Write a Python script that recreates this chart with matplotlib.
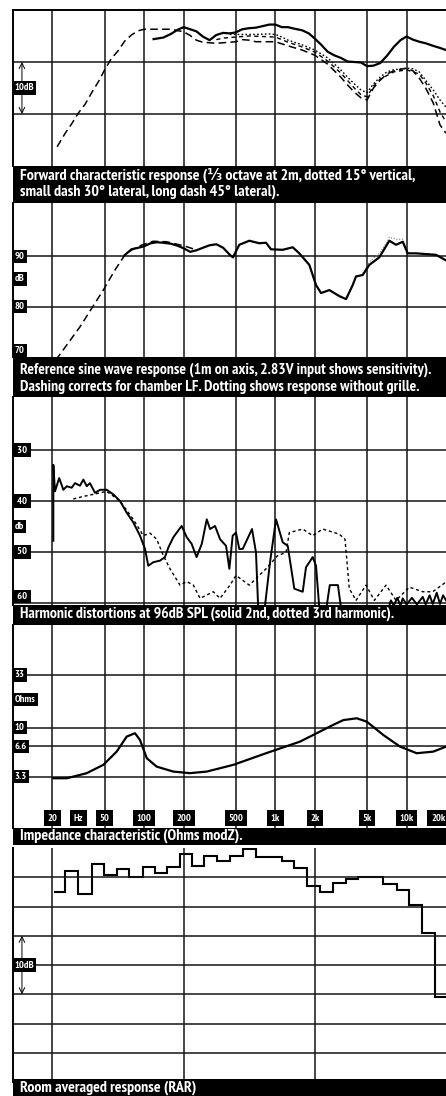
import matplotlib
matplotlib.use("Agg")
import matplotlib.pyplot as plt
from matplotlib import font_manager as fm
from matplotlib.patches import Rectangle

W, H = 446, 1096

# frequency grid and scale labels (Hz)
grid_freqs = [20, 50, 100, 200, 500, 1000, 2000, 5000, 10000]
rar_grid_freqs = [20, 200, 2000]
scale_text = ["20", "Hz", "50", "100", "200", "500", "1k", "2k", "5k", "10k", "20k"]
scale_freqs = [20, 31.5, 50, 100, 200, 500, 1000, 2000, 5000, 10000, 17400]

# forward response, 1/3 octave at 2m (dB)
fwd_axis_f = [118, 125, 140, 160, 180, 200, 224, 250, 280, 315, 355, 400, 450, 500, 560, 630,
              710, 800, 900, 1000, 1120, 1250, 1400, 1600, 1800, 2000, 2240, 2500, 2800, 3150,
              3550, 4000, 4500, 5000, 5600, 6300, 7100, 8000, 9000, 10000, 11200, 12500, 14000,
              16000, 18000, 20000]
fwd_axis_db = [84.4, 84.5, 84.7, 85.4, 86.2, 86.7, 86.3, 85.9, 84.9, 84.2, 85.2, 85.6, 85.5, 85.7,
               86.3, 86.5, 86.6, 86.9, 87.2, 87.2, 86.7, 86.7, 86.4, 86.1, 85.5, 84.5, 83.3, 82.0,
               81.3, 80.8, 80.1, 80.0, 79.9, 79.2, 79.3, 79.8, 81.2, 82.9, 84.2, 84.9, 84.3, 83.9,
               83.6, 83.1, 82.7, 82.3]
fwd_45_f = [21.7, 25, 28, 31.5, 35.5, 40, 45, 50, 56, 63, 71, 80, 90, 100, 125, 160, 200, 224,
            250, 280, 355, 450, 500, 560, 630, 710, 1000, 1250, 1600, 2000, 2500, 3150, 3550,
            4000, 4500, 5000, 5600, 6300, 7100, 8000, 9000, 10000, 11200, 12500, 14000, 16000,
            18000, 20000]
fwd_45_db = [63.7, 66.3, 68.1, 70.2, 71.9, 74.2, 76.3, 78.5, 80.6, 82.1, 84.0, 85.2, 86.0, 86.3,
             86.3, 86.3, 85.8, 85.1, 84.2, 83.8, 83.6, 83.8, 83.9, 84.3, 84.2, 83.9, 83.9, 83.1,
             82.3, 81.3, 79.6, 77.1, 75.6, 74.2, 73.1, 72.7, 75.0, 76.5, 77.7, 78.3, 78.6, 78.8,
             78.3, 76.9, 75.0, 72.1, 67.9, 66.3]
fwd_15_f = [450, 560, 710, 900, 1000, 1120, 1250, 1600, 2000, 2500, 3150, 3550, 4000, 4500, 5000,
            5600, 6300, 7100, 8000, 10000, 11200, 12500, 14000, 16000, 18000, 20000]
fwd_15_db = [85.3, 85.3, 85.3, 85.4, 85.3, 84.8, 84.2, 83.3, 82.3, 80.8, 78.5, 77.1, 75.8, 74.6,
             74.1, 75.8, 77.1, 78.1, 78.5, 78.8, 78.7, 78.1, 76.5, 74.6, 72.7, 71.3]
fwd_30_f = [355, 400, 500, 630, 800, 1000, 1250, 1600, 2000, 2500, 3150, 4000, 4500, 5000, 5600,
            6300, 8000, 10000, 12500, 14000, 16000, 18000, 20000]
fwd_30_db = [84.3, 84.6, 84.8, 85.0, 84.9, 84.8, 83.8, 82.9, 81.9, 80.2, 77.9, 75.0, 73.7, 73.3,
             75.4, 76.7, 78.1, 78.5, 77.7, 76.0, 73.5, 70.4, 68.5]

# reference sine wave response, 1m (dB)
ref_f = [71.4, 80, 90, 100, 112, 125, 140, 160, 180, 200, 224, 250, 280, 315, 355, 400, 450, 475,
         531, 633, 755, 849, 927, 1138, 1357, 1523, 1816, 2042, 2230, 2579, 3074, 3458, 3890,
         4121, 4637, 5205, 6203, 7394, 8318, 9357, 10214, 11816, 16788, 20000]
ref_db = [90.3, 91.4, 91.7, 92.0, 92.6, 92.8, 92.7, 92.5, 92.1, 91.6, 90.9, 91.2, 91.7, 92.2,
          92.4, 91.7, 90.3, 89.8, 92.3, 93.1, 92.6, 92.7, 91.4, 91.3, 91.8, 90.6, 88.3, 84.3,
          82.7, 83.3, 82.1, 81.5, 84.3, 86.0, 86.3, 88.3, 89.8, 93.1, 92.3, 92.9, 90.6, 90.6,
          90.3, 89.2]
ref_lf_f = [21, 22.2, 32.4, 48.8, 59.9, 71.4, 80.6, 97, 117, 148, 200, 236]
ref_lf_db = [69.5, 70.1, 76.0, 83.3, 87.3, 90.3, 91.3, 92.3, 93.0, 92.9, 92.1, 91.5]
ref_nogrille_f = [4637, 5205, 6203, 7000, 7394, 8318, 9357, 10214]
ref_nogrille_db = [86.6, 88.9, 90.6, 92.6, 93.8, 93.4, 93.4, 91.0]

# harmonic distortion at 96dB SPL (dB below fundamental)
h2_f = [20.3, 20.3, 20.9, 22.5, 24.2, 25.7, 28.0, 29.7, 32.4, 34.4, 36.5, 38.6, 42.2, 46.1, 51.8,
        58.2, 65.4, 73.6, 82.6, 92.9, 101.5, 107.5, 117.4, 132, 144, 153, 167, 193, 211, 230,
        251, 275, 300, 318, 347, 379, 421, 446, 473, 501, 531, 564, 664, 712, 740, 830, 911,
        1012, 1138, 1243, 1395, 1617, 1713, 1927, 2042, 2164, 2450, 2600, 3000, 3168, 7300,
        7600, 8000, 8500, 9000, 9357, 10000, 11000, 12000, 13292, 14000, 15000, 15844, 17000,
        18000, 19000, 20000]
h2_db = [47.8, 32.9, 38.1, 35.5, 37.8, 37.1, 37.4, 36.5, 37.0, 35.8, 37.1, 36.5, 38.4, 37.8, 37.8,
         38.7, 40.0, 42.3, 44.2, 46.8, 49.4, 52.7, 52.0, 51.7, 51.0, 49.1, 47.1, 44.9, 47.1, 48.4,
         51.0, 48.4, 43.6, 45.5, 44.9, 47.5, 48.8, 53.3, 46.8, 46.2, 49.4, 49.4, 45.5, 50.1, 61,
         61, 52.0, 43.6, 48.1, 48.8, 57.2, 57.8, 53.0, 51.0, 52.7, 61, 61, 56.5, 56.5, 61, 61,
         59.5, 60.5, 59.0, 60.5, 59.1, 60.3, 59.0, 60.3, 58.8, 60.3, 58.5, 60.2, 58.0, 60.2,
         58.5, 59.5]
h3_f = [28.8, 34.4, 40.9, 51.8, 65.4, 82.6, 98.5, 110.8, 124.6, 140, 157.4, 187.6, 211, 237,
        266.6, 336.6, 378.6, 451, 501, 633, 849, 1042, 1206, 1278, 1617, 1927, 2297, 3074, 3397,
        3664, 4121, 4913, 5684, 6981, 8318, 10505, 13292, 15844, 20000]
h3_db = [39.6, 39.1, 38.7, 38.1, 40.0, 43.6, 46.8, 46.3, 47.5, 50.7, 53.3, 56.5, 55.8, 56.5,
         59.1, 57.8, 59.1, 56.5, 54.6, 56.5, 53.3, 50.7, 50.1, 46.2, 45.5, 46.8, 45.5, 46.5,
         47.5, 57.2, 59.5, 56.5, 59.5, 56.5, 59.5, 56.9, 57.8, 57.8, 55.9]

# impedance modulus (ohms)
imp_f = [20.3, 25.7, 36.5, 48.8, 61.7, 73.6, 85.1, 92.9, 104.7, 124.6, 166.8, 223.6, 299.8, 478,
         849, 1542, 2067, 2767, 3297, 4173, 4973, 6656, 8923, 11963, 16012, 20000]
imp_ohm = [3.2, 3.2, 3.59, 4.33, 5.84, 8.2, 8.85, 7.6, 5.03, 4.16, 3.72, 3.59, 3.72, 4.33, 5.63,
           7.32, 8.85, 10.7, 11.9, 12.4, 11.5, 8.5, 6.54, 5.63, 5.84, 6.54]

# room averaged response, 1/3 octave bands (dB)
rar_edges = [20.6, 24.9, 31.1, 39.8, 49.4, 61.7, 77.0, 97.4, 120.9, 148.5, 187.6, 230.3, 285.9,
             361, 451, 564, 712, 884, 1118, 1388, 1753, 2191, 2767, 3440, 4291, 5335, 6656,
             8422, 10505, 13059, 16497, 20000]
rar_db = [32.5, 36.1, 32.1, 37.2, 35.4, 36.4, 35.0, 36.7, 35.8, 36.8, 39.0, 36.9, 38.6, 37.8,
          38.6, 39.8, 38.4, 38.5, 37.7, 36.5, 33.5, 32.4, 34.0, 34.7, 35.1, 35.0, 33.8, 32.8,
          30.3, 25.5, 14.5]

# caption lines, bar top/bottom, line centres and measured width of first line (px)
captions = [
    (["Forward characteristic response (\u2153 octave at 2m, dotted 15\u00b0 vertical,",
      "small dash 30\u00b0 lateral, long dash 45\u00b0 lateral)."], 166, 203, [175, 191.5], 401),
    (["Reference sine wave response (1m on axis, 2.83V input shows sensitivity).",
      "Dashing corrects for chamber LF. Dotting shows response without grille."], 357, 397,
     [370, 386.5], 412),
    (["Harmonic distortions at 96dB SPL (solid 2nd, dotted 3rd harmonic)."], 605, 625, [614], 378),
    (["Impedance characteristic (Ohms modZ)."], 828, 845, [835.5], 228),
    (["Room averaged response (RAR)"], 1079, 1096, [1088], 178),
]


# the scan uses a bold condensed grotesque: look for a bold narrow face
def is_bold(f):
    w = f.weight
    if isinstance(w, str):
        return w in ("bold", "heavy", "black", "demibold", "semibold", "extra bold", "ultrabold")
    return w >= 600


cands = [f for f in fm.fontManager.ttflist
         if "Narrow" in f.name or "Condensed" in f.name
         or f.stretch in ("condensed", "semi-condensed", "extra-condensed")]
cands.sort(key=lambda f: (not is_bold(f), "Narrow" not in f.name))
if cands:
    pick = cands[0]
    narrow, weight, stretch = pick.name, pick.weight, pick.stretch
else:
    narrow, weight, stretch = "DejaVu Sans", "bold", "normal"

plt.rcParams['font.family'] = [narrow, 'DejaVu Sans']
plt.rcParams['font.weight'] = weight
plt.rcParams['font.stretch'] = stretch


def box(top, bottom, left=13, right=W):
    return [left / W, 1 - bottom / H, (right - left) / W, (bottom - top) / H]


def style(ax, ylim, yticks, xgrid=grid_freqs, yscale="linear"):
    ax.set_xscale("log")
    ax.set_yscale(yscale)
    ax.set_xlim(10, 20000)
    ax.set_ylim(*ylim)
    ax.set_xticks(xgrid)
    ax.set_xticks([], minor=True)
    ax.set_yticks(yticks)
    ax.set_yticks([], minor=True)
    ax.tick_params(length=0, labelleft=False, labelbottom=False)
    ax.grid(True, color="#151515", lw=1.1)
    for s in ["right", "bottom", "top"]:
        ax.spines[s].set_visible(False)
    ax.spines["left"].set_linewidth(1.4)


def tag(ax, y, s, size=7.5):
    ax.text(0.004, y, s, transform=ax.get_yaxis_transform(), color="white", fontsize=size,
            ha="left", va="center", zorder=6,
            bbox=dict(boxstyle="square,pad=0.2", fc="black", ec="none"))


fig = plt.figure(figsize=(W / 100, H / 100), dpi=100)

solid = dict(color="black", lw=1.6, solid_joinstyle="round")

# forward response
ax1 = fig.add_axes(box(10, 166))
style(ax1, (60, 90), [70, 80])
ax1.spines["top"].set_visible(True)
ax1.spines["top"].set_linewidth(1.4)
ax1.plot(fwd_45_f, fwd_45_db, color="black", lw=1.1, ls=(0, (5, 2.8)))
ax1.plot(fwd_30_f, fwd_30_db, color="black", lw=1.0, ls=(0, (3, 2.5)))
ax1.plot(fwd_15_f, fwd_15_db, color="black", lw=1.0, ls=(0, (1.2, 1.6)))
ax1.plot(fwd_axis_f, fwd_axis_db, **solid)
ax1.annotate("", xy=(11.7, 80), xytext=(11.7, 70),
             arrowprops=dict(arrowstyle="<->", lw=0.7, color="black", shrinkA=0, shrinkB=0))
tag(ax1, 75, "10dB")

# reference sine wave response
ax2 = fig.add_axes(box(203, 357))
style(ax2, (70, 100.6), [80, 90])
ax2.plot(ref_lf_f, ref_lf_db, color="black", lw=1.1, ls=(0, (5, 2.8)))
ax2.plot(ref_nogrille_f, ref_nogrille_db, color="#777777", lw=0.8, ls=(0, (1, 1.5)))
ax2.plot(ref_f, ref_db, **solid)
tag(ax2, 90, "90")
tag(ax2, 85.5, "dB")
tag(ax2, 80, "80")
tag(ax2, 71.2, "70")

# harmonic distortion
ax3 = fig.add_axes(box(397, 605))
style(ax3, (60.4, 19.6), [30, 40, 50, 60])
ax3.plot(h3_f, h3_db, color="black", lw=1.0, ls=(0, (2.2, 2)))
ax3.plot(h2_f, h2_db, color="black", lw=1.4)
tag(ax3, 30, " 30 ")
tag(ax3, 40, " 40 ")
tag(ax3, 45, "db")
tag(ax3, 50, " 50 ")
tag(ax3, 58.7, " 60 ")

# impedance
ax4 = fig.add_axes(box(625, 828))
style(ax4, (1.04, 102), [3.3, 6.6, 10, 33], yscale="log")
ax4.plot(imp_f, imp_ohm, **solid)
tag(ax4, 33, "33")
tag(ax4, 19, "Ohms")
tag(ax4, 10, "10")
tag(ax4, 6.6, "6.6")
tag(ax4, 3.3, "3.3")
for f, s in zip(scale_freqs, scale_text):
    ax4.text(f, 1.3, s, color="white", fontsize=7.5, ha="center", va="center", zorder=6,
             bbox=dict(boxstyle="square,pad=0.35", fc="black", ec="none"))

# room averaged response
ax5 = fig.add_axes(box(848, 1082))
style(ax5, (0, 40), [5, 10, 15, 20, 25, 30, 35], xgrid=rar_grid_freqs)
ax5.stairs(rar_db, rar_edges, baseline=None, color="black", lw=1.5)
ax5.annotate("", xy=(11.7, 25), xytext=(11.7, 15),
             arrowprops=dict(arrowstyle="<->", lw=0.7, color="black", shrinkA=0, shrinkB=0))
tag(ax5, 20, "10dB")

# black caption bars, text sized to the measured width of the scan
fig.canvas.draw()
renderer = fig.canvas.get_renderer()
for lines, top, bottom, centres, width in captions:
    fig.add_artist(Rectangle((13 / W, 1 - bottom / H), (W - 13) / W, (bottom - top) / H,
                             transform=fig.transFigure, facecolor="black", edgecolor="none"))
    texts = [fig.text(20 / W, 1 - yc / H, line, color="white", fontsize=10, ha="left",
                      va="center") for line, yc in zip(lines, centres)]
    w = texts[0].get_window_extent(renderer).width
    size = min(11.5, 10 * width / w)
    for t in texts:
        t.set_fontsize(size)

fig.savefig("out.png", dpi=100)
